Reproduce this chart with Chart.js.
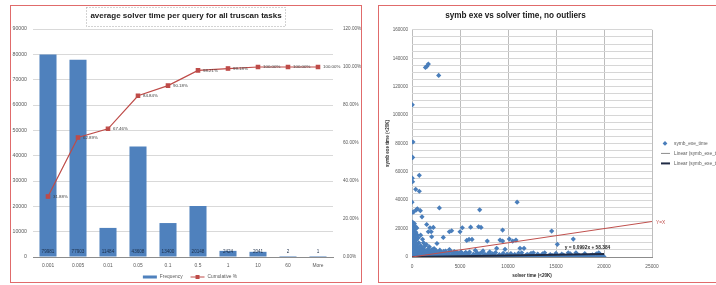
<!DOCTYPE html>
<html>
<head>
<meta charset="utf-8">
<script src="https://cdn.jsdelivr.net/npm/chart.js@4.4.1/dist/chart.umd.min.js"></script>
<style>
  html, body { margin: 0; padding: 0; background: #fff; overflow: hidden; width: 716px; height: 285px; }
  .frame { position: absolute; border: 1px solid #e06b6b; overflow: hidden; background: #fff; }
  #leftFrame { left: 10px; top: 5px; width: 350px; height: 276px; }
  #rightFrame { left: 378px; top: 5px; width: 345px; height: 276px; }
  canvas { display: block; }
</style>
</head>
<body>
<div class="frame" id="leftFrame"><canvas id="solverChart" width="350" height="276"></canvas></div>
<div class="frame" id="rightFrame"><canvas id="scatterChart" width="345" height="276"></canvas></div>
<script>
const FONT = '"Liberation Sans", Arial, sans-serif';

// left chart: histogram of solver time per query
const bucketLabels = ["0.001", "0.005", "0.01", "0.05", "0.1", "0.5", "1", "10", "60", "More"];
const frequencyValues = [79981, 77903, 11484, 43608, 13400, 20148, 2424, 2041, 2, 1];
const cumulativePercent = [31.88, 62.89, 67.46, 84.84, 90.18, 98.21, 99.18, 100.0, 100.0, 100.0];

// right chart: symb exe time vs solver time, [solver time, symb exe time]
const scatterPoints = [
  [30, 107200], [100, 81000], [1400, 133500], [1550, 134300], [1700, 135900], [2780, 127900],
  [30, 70300], [60, 70000], [30, 55500], [60, 53000], [760, 57500], [385, 47700], [760, 46300],
  [0, 38600], [30, 31500], [180, 31800], [450, 33200], [560, 34000], [870, 32600], [1040, 28300],
  [2850, 34600], [7050, 33200], [10950, 38600],
  [1530, 22900], [1875, 20600], [2220, 20800], [1700, 17800], [2000, 17800], [900, 15400],
  [2050, 14250], [3260, 13800], [3890, 17800], [4130, 18500], [5000, 17800], [5240, 20600],
  [6110, 21000], [5700, 11700], [5940, 12400], [6250, 12400], [6940, 21300], [7190, 20800],
  [7840, 11200], [9170, 11900], [8820, 6100], [9440, 18950], [9440, 11200], [10140, 12600],
  [10490, 11200], [10830, 11900], [9690, 5400], [11250, 6100], [11670, 6100], [11430, 3000],
  [12640, 3000], [13820, 3000], [14550, 18250], [15140, 8900], [16800, 12600], [16280, 3000],
  [17080, 3000], [19450, 3000],
  [1200, 10000], [1500, 8800], [1800, 7200], [2300, 6000], [2600, 9500], [1100, 12500],
  [1300, 5000], [2900, 4800], [3500, 4200], [3900, 5200], [4400, 3800], [6600, 4700],
  [7400, 4300], [8100, 3600], [5600, 3200], [4800, 2600],
  [20, 24500], [120, 24000], [250, 23500], [60, 22500], [180, 22000], [350, 21500], [20, 21000],
  [500, 20500], [100, 20000], [260, 19500], [30, 18500], [150, 18000], [400, 17500], [60, 16500],
  [230, 16000], [550, 15500], [20, 15000], [120, 14500], [320, 14000], [650, 13500], [40, 13000],
  [200, 12500], [450, 12000], [20, 11500], [130, 11000], [300, 10500], [700, 10000], [60, 9500],
  [220, 9000], [500, 8500], [900, 8000], [30, 7500], [160, 7000], [380, 6800], [650, 6500],
  [1000, 6200], [60, 6000], [250, 5500], [500, 5200], [800, 5000], [1200, 4800], [20, 4500],
  [150, 4200], [400, 4000], [700, 3800], [1100, 3600], [1500, 3400], [1900, 3200], [60, 3000],
  [300, 2800], [600, 2600], [950, 2400], [1300, 2200], [1700, 2100], [2200, 2000], [2700, 1900],
  [3200, 1800], [3700, 1700], [20, 1500], [250, 1400], [550, 1300], [850, 1200],
  [1600, 4200], [2000, 3000], [2400, 3800], [2800, 2700], [3000, 3500], [3400, 2500], [3800, 3000],
  [4300, 2200], [4700, 3100], [5200, 2400], [5900, 2800], [6400, 2000], [7100, 2500], [7600, 1900],
  [8400, 2200], [9100, 1700], [9900, 2000], [10700, 1800], [12000, 1900], [13100, 2100],
  [14400, 1700], [15600, 2000], [17200, 1800], [18800, 1600], [19600, 1900],
  [300, 3600], [800, 3200], [1000, 4400], [1400, 3900], [1800, 4600], [2200, 4200], [2600, 3300],
  [3100, 2900], [600, 5600], [900, 6800], [1300, 7400], [1700, 5800], [2100, 5200], [2500, 4600],
  [3300, 3900], [4100, 3400], [4600, 2900], [5100, 3700], [5500, 2600], [6000, 3500], [6800, 2900],
  [7300, 3300], [8000, 2800], [8700, 3100], [9500, 2600], [10300, 2400], [11100, 2700], [12400, 2500],
  [13600, 2300], [15000, 2600], [16500, 2200], [18000, 2400], [19200, 2300],
  [200, 900], [700, 1000], [1100, 800], [1500, 1100], [1900, 900], [2300, 1200], [2700, 800],
  [3100, 1000], [3500, 900], [3900, 1100], [400, 1900], [800, 1800], [1200, 1600], [1600, 1500],
  [2000, 1400], [2400, 1500], [2800, 1300], [3400, 1200], [3800, 1400],
  [4200, 1300], [4600, 900], [5000, 1500], [5400, 700], [5800, 1200], [6200, 500], [6600, 1600],
  [7000, 900], [7400, 400], [7800, 1200], [8200, 800], [8600, 1400], [9000, 600], [9400, 1000],
  [9800, 300], [10200, 1300], [10600, 700], [11000, 1100], [11400, 400], [11800, 900], [12200, 1500],
  [12600, 600], [13000, 1000], [13400, 300], [13800, 1200], [14200, 700], [14600, 1000], [15000, 400],
  [15400, 800], [15800, 1300], [16200, 600], [16600, 900], [17000, 300], [17400, 1100], [17800, 700],
  [18200, 500], [18600, 1000], [19000, 400], [19400, 800], [19800, 600], [20000, 200],
  [2300, 400], [3500, 100], [4300, 700], [5100, 600], [5900, 800], [6700, 600], [7500, 700],
  [8300, 500], [9100, 800], [9900, 700], [10700, 500], [11500, 800], [12300, 700], [13100, 600],
  [13900, 800], [14700, 600], [15500, 500], [16300, 700], [17100, 800], [17900, 600], [18700, 700],
  [19500, 500],
  [100, 300], [500, 500], [900, 200], [1300, 600], [1700, 300], [2100, 700], [2500, 200], [2900, 500],
  [3300, 300], [3700, 600], [4100, 200], [4500, 400], [4900, 100], [5300, 300], [5700, 100],
  [6100, 200], [6500, 100], [6900, 300], [7300, 100], [7700, 200], [8100, 100], [8500, 300],
  [8900, 100], [9300, 200], [9700, 100], [10100, 300], [10500, 100], [10900, 200], [11300, 100],
  [11700, 300], [12100, 100], [12500, 200], [12900, 100], [13300, 300], [13700, 100], [14100, 200],
  [14500, 100], [14900, 300], [15300, 100], [15700, 200], [16100, 100], [16500, 300], [16900, 100],
  [17300, 200], [17700, 100], [18100, 300], [18500, 100], [18900, 200], [19300, 100], [19700, 300],
];
const trendLine = [[0, 58.384], [20000, 2042.4]];
const identityLine = [[0, 0], [25000, 25000]];
const trendEquation = "y = 0.0992x + 58.384";
const trendLabelAt = [15900, 6300];

const toXY = (pairs) => pairs.map(([x, y]) => ({ x, y }));

const solverChartPlugin = {
  id: "solverChartExtras",
  afterDatasetsDraw(chart) {
    const { ctx } = chart;
    const zeroY = chart.scales.y.getPixelForValue(0);
    ctx.save();
    ctx.font = `4.6px ${FONT}`;
    ctx.fillStyle = "#1c2f4a";
    ctx.textAlign = "center";
    ctx.textBaseline = "middle";
    chart.getDatasetMeta(1).data.forEach((bar, i) => {
      ctx.fillText(String(frequencyValues[i]), bar.x, zeroY - 5);
    });
    ctx.font = `4.4px ${FONT}`;
    ctx.fillStyle = "#404040";
    ctx.textAlign = "left";
    chart.getDatasetMeta(0).data.forEach((pt, i) => {
      ctx.fillText(`${cumulativePercent[i].toFixed(2)}%`, pt.x + 5, pt.y);
    });
    ctx.restore();
  },
  afterDraw(chart) {
    const { ctx } = chart;
    ctx.save();
    // dotted box round the title
    const title = chart.options.plugins.title;
    ctx.font = `bold ${title.font.size}px ${FONT}`;
    const tw = ctx.measureText(title.text).width;
    const cx = chart.width / 2;
    ctx.strokeStyle = "#a6a6a6";
    ctx.lineWidth = 1;
    ctx.setLineDash([1, 2]);
    ctx.strokeRect(Math.round(cx - tw / 2 - 4) + 0.5, 1.5, Math.round(tw + 8), 19);
    ctx.setLineDash([]);

    // bottom legend
    ctx.font = `4.8px ${FONT}`;
    ctx.textBaseline = "middle";
    ctx.textAlign = "left";
    const items = chart.data.datasets.slice().reverse();
    const widths = items.map((ds) => 17 + ctx.measureText(ds.label).width);
    const total = widths.reduce((a, b) => a + b, 0) + 8 * (items.length - 1);
    let x = cx - total / 2 + 4;
    const y = chart.height - 5;
    items.forEach((ds, i) => {
      if (ds.type === "bar") {
        ctx.fillStyle = ds.backgroundColor;
        ctx.fillRect(x, y - 1.5, 14, 3);
      } else {
        ctx.strokeStyle = ds.borderColor;
        ctx.lineWidth = 1;
        ctx.beginPath();
        ctx.moveTo(x, y);
        ctx.lineTo(x + 14, y);
        ctx.stroke();
        ctx.fillStyle = ds.borderColor;
        ctx.fillRect(x + 5, y - 2, 4, 4);
      }
      ctx.fillStyle = "#595959";
      ctx.fillText(ds.label, x + 17, y);
      x += widths[i] + 8;
    });
    ctx.restore();
  },
};

const scatterChartPlugin = {
  id: "scatterChartExtras",
  afterDatasetsDraw(chart) {
    const { ctx, scales } = chart;
    ctx.save();
    const end = identityLine[identityLine.length - 1];
    ctx.font = `4.8px ${FONT}`;
    ctx.fillStyle = "#c0504d";
    ctx.textBaseline = "middle";
    ctx.fillText("Y=X", scales.x.getPixelForValue(end[0]) + 4, scales.y.getPixelForValue(end[1]) + 1);
    ctx.font = `bold 4.8px ${FONT}`;
    ctx.fillStyle = "#262626";
    ctx.fillText(trendEquation, scales.x.getPixelForValue(trendLabelAt[0]), scales.y.getPixelForValue(trendLabelAt[1]));
    ctx.restore();
  },
  afterDraw(chart) {
    const { ctx, chartArea } = chart;
    ctx.save();
    ctx.font = `4.8px ${FONT}`;
    ctx.textBaseline = "middle";
    const x = chartArea.right + 13;
    const items = chart.data.datasets.slice().reverse().filter((ds) => ds.label !== "Y=X");
    items.forEach((ds, i) => {
      const y = (chartArea.top + chartArea.bottom) / 2 + i * 10;
      if (ds.showLine) {
        ctx.strokeStyle = ds.borderColor;
        ctx.lineWidth = ds.borderWidth;
        ctx.beginPath();
        ctx.moveTo(x - 4, y);
        ctx.lineTo(x + 5, y);
        ctx.stroke();
      } else {
        ctx.fillStyle = ds.backgroundColor;
        ctx.beginPath();
        ctx.moveTo(x, y - 2.4);
        ctx.lineTo(x + 2.4, y);
        ctx.lineTo(x, y + 2.4);
        ctx.lineTo(x - 2.4, y);
        ctx.closePath();
        ctx.fill();
      }
      ctx.fillStyle = "#595959";
      ctx.fillText(ds.label, x + 9, y);
    });
    ctx.restore();
  },
};

function renderSolverChart() {
  new Chart(document.getElementById("solverChart"), {
    data: {
      labels: bucketLabels,
      datasets: [
        {
          type: "line",
          label: "Cumulative %",
          data: cumulativePercent,
          yAxisID: "y1",
          borderColor: "#be4b48",
          backgroundColor: "#be4b48",
          borderWidth: 1.2,
          pointStyle: "rect",
          pointRadius: 2.4,
          order: 0,
        },
        {
          type: "bar",
          label: "Frequency",
          data: frequencyValues,
          yAxisID: "y",
          backgroundColor: "#4f81bd",
          barPercentage: 0.71,
          categoryPercentage: 0.8,
          order: 1,
        },
      ],
    },
    options: {
      responsive: false,
      animation: false,
      layout: { padding: { left: 0, right: 0, top: 0, bottom: 12 } },
      plugins: {
        legend: { display: false },
        tooltip: { enabled: false },
        title: {
          display: true,
          text: "average solver time per query for all truscan tasks",
          color: "#1a1a1a",
          font: { family: FONT, size: 8, weight: "bold" },
          padding: { top: 5, bottom: 8.4 },
        },
      },
      scales: {
        x: {
          grid: { display: false, drawTicks: false },
          border: { color: "#8c8c8c" },
          ticks: { color: "#595959", font: { family: FONT, size: 4.9 }, padding: 6, maxRotation: 0 },
          afterFit: (s) => { s.height = 13; },
        },
        y: {
          position: "left",
          min: 0,
          max: 90000,
          border: { display: false },
          grid: { color: "#d9d9d9", drawTicks: false },
          ticks: { stepSize: 10000, color: "#595959", font: { family: FONT, size: 5.2 }, padding: 6, callback: (v) => String(v) },
          afterFit: (s) => { s.width = 22; },
        },
        y1: {
          position: "right",
          min: 0,
          max: 120,
          border: { display: false },
          grid: { display: false, drawTicks: false },
          ticks: { stepSize: 20, color: "#595959", font: { family: FONT, size: 4.6 }, padding: 10, callback: (v) => `${v.toFixed(2)}%` },
          afterFit: (s) => { s.width = 28; },
        },
      },
    },
    plugins: [solverChartPlugin],
  });
}

function renderScatterChart() {
  new Chart(document.getElementById("scatterChart"), {
    type: "scatter",
    data: {
      datasets: [
        {
          label: "Y=X",
          data: toXY(identityLine),
          showLine: true,
          borderColor: "#c0504d",
          borderWidth: 1,
          pointRadius: 0,
        },
        {
          label: "Linear (symb_exe_time)",
          data: toXY(trendLine),
          showLine: true,
          borderColor: "#1f2a44",
          borderWidth: 2,
          pointRadius: 0,
        },
        {
          label: "Linear (symb_exe_time)",
          data: toXY(trendLine),
          showLine: true,
          borderColor: "#8c8c8c",
          borderWidth: 1,
          pointRadius: 0,
        },
        {
          label: "symb_exe_time",
          data: toXY(scatterPoints),
          pointStyle: "rectRot",
          pointRadius: 2.6,
          backgroundColor: "#4a7ebb",
          borderWidth: 0,
        },
      ],
    },
    options: {
      responsive: false,
      animation: false,
      layout: { padding: { left: 0, right: 72, top: 0, bottom: 0 } },
      plugins: {
        legend: { display: false },
        tooltip: { enabled: false },
        title: {
          display: true,
          text: "symb exe vs solver time, no outliers",
          color: "#1a1a1a",
          font: { family: FONT, size: 8.2, weight: "bold" },
          padding: { top: 5, bottom: 9 },
        },
      },
      scales: {
        x: {
          type: "linear",
          min: 0,
          max: 25000,
          border: { color: "#8c8c8c" },
          grid: { color: "#bdbdbd", drawTicks: false },
          ticks: { stepSize: 5000, color: "#595959", font: { family: FONT, size: 4.8 }, padding: 7, callback: (v) => String(v) },
          title: { display: true, text: "solver time (<20K)", color: "#262626", font: { family: FONT, size: 4.6, weight: "bold" }, padding: { top: 0, bottom: 4 } },
          afterFit: (s) => { s.height = 25; },
        },
        y: {
          min: 0,
          max: 160000,
          border: { display: false },
          grid: { color: "#d6d6d6", drawTicks: false },
          ticks: {
            stepSize: 5000,
            autoSkip: false,
            maxTicksLimit: 40,
            color: "#595959",
            font: { family: FONT, size: 4.6 },
            padding: 4,
            callback: (v) => (v % 20000 === 0 ? String(v) : ""),
          },
          title: { display: true, text: "symb exe time (<20K)", color: "#262626", font: { family: FONT, size: 4.6, weight: "bold" }, padding: { top: 6, bottom: 0 } },
          afterFit: (s) => { s.width = 33; },
        },
      },
    },
    plugins: [scatterChartPlugin],
  });
}

renderSolverChart();
renderScatterChart();
</script>
</body>
</html>
